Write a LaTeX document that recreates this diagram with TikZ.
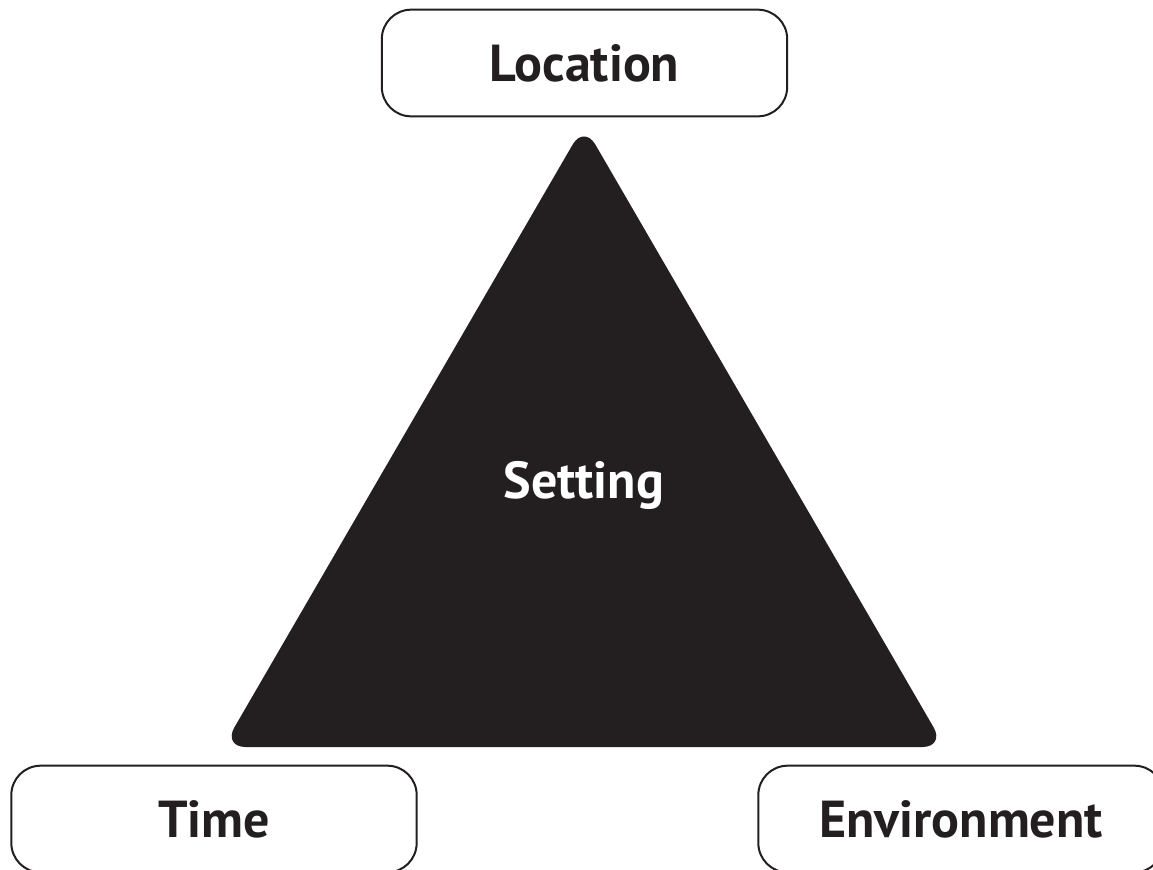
\documentclass[tikz,border=0pt]{standalone}
\usepackage{fontspec}
\setmainfont{PT Sans}
\usetikzlibrary{positioning}
\definecolor{darkfill}{HTML}{231F20}

\begin{document}
\begin{tikzpicture}[x=0.75pt,y=-0.75pt,
    labelbox/.style={draw=darkfill, line width=1.5pt, rounded corners=22pt,
      minimum width=304pt, minimum height=80pt, inner sep=0pt,
      font=\fontsize{39}{39}\selectfont\bfseries, text=darkfill}]
    \useasboundingbox (0,0) rectangle (1153,869);
    \clip (0,0) rectangle (1153,869);
    % the triangle
    \coordinate (apex) at (584,125);
    \coordinate (bl) at (223,747);
    \coordinate (br) at (945,747);
    \fill[darkfill, rounded corners=17pt] (apex) -- (br) -- (bl) -- cycle;
    \node[anchor=base, text=white, font=\fontsize{39}{39}\selectfont\bfseries] (setting) at (584,498) {Setting};
    % the three boxes
    \node[labelbox] (location) at (584.5,63) {Location};
    \node[labelbox] (time) at (214,819) {Time};
    \node[labelbox] (environment) at (961,819) {Environment};
\end{tikzpicture}
\end{document}
